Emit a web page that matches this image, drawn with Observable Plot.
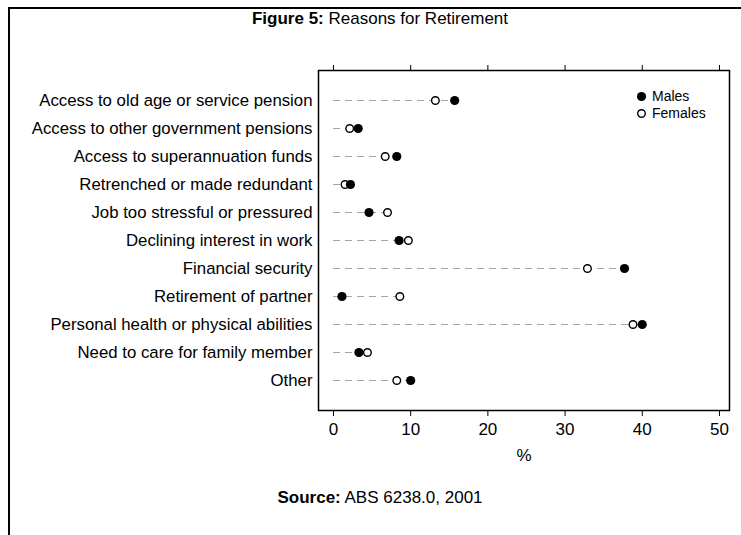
<!DOCTYPE html>
<html>
<head>
<meta charset="utf-8">
<script src="https://cdn.jsdelivr.net/npm/d3@7"></script>
<script src="https://cdn.jsdelivr.net/npm/@observablehq/plot@0.6"></script>
<style>
  html, body { margin: 0; padding: 0; background: #fff; }
  #fig {
    position: relative; width: 741px; height: 535px; overflow: hidden;
    font-family: "Liberation Sans", Arial, sans-serif;
    color: #000;
  }
  #border {
    position: absolute; left: 8px; top: 7px; right: -10px; bottom: -10px;
    border-top: 2px solid #000; border-left: 2px solid #000;
  }
  #title, #source {
    position: absolute; left: 0; width: 760px; text-align: center;
    font-size: 17px; white-space: nowrap;
  }
  #title { top: 9px; }
  #source { top: 488px; }
  #chart { position: absolute; left: 0; top: 0; }
  #legend {
    position: absolute; left: 636px; top: 88px; font-size: 14px; line-height: 17px;
  }
  #legend div { display: flex; align-items: center; }
  #legend svg { margin-right: 5px; }
</style>
</head>
<body>
<div id="fig">
  <div id="border"></div>
  <div id="title"><b>Figure 5:</b> Reasons for Retirement</div>
  <div id="chart"></div>
  <div id="legend">
    <div><svg width="11" height="11"><circle cx="5.5" cy="5.5" r="4.6" fill="#000"/></svg>Males</div>
    <div><svg width="11" height="11"><circle cx="5.5" cy="5.5" r="3.8" fill="#fff" stroke="#000" stroke-width="1.4"/></svg>Females</div>
  </div>
  <div id="source"><b>Source:</b> ABS 6238.0, 2001</div>
</div>
<script>
// Reasons for retirement, percentage of retirees by sex
const reasons = [
  "Access to old age or service pension",
  "Access to other government pensions",
  "Access to superannuation funds",
  "Retrenched or made redundant",
  "Job too stressful or pressured",
  "Declining interest in work",
  "Financial security",
  "Retirement of partner",
  "Personal health or physical abilities",
  "Need to care for family member",
  "Other"
];
const males   = [15.7, 3.2, 8.2, 2.2, 4.6, 8.5, 37.7, 1.1, 40.0, 3.3, 10.0];
const females = [13.2, 2.1, 6.7, 1.5, 7.0, 9.7, 32.9, 8.6, 38.8, 4.4, 8.2];
const xTicks = [0, 10, 20, 30, 40, 50];

const rows = reasons.map((reason, i) => ({
  reason,
  male: males[i],
  female: females[i],
  top: Math.max(males[i], females[i])
}));

const chart = Plot.plot({
  width: 741,
  height: 470,
  marginLeft: 318,
  marginRight: 12,
  marginTop: 70,
  marginBottom: 60,
  style: {
    fontFamily: '"Liberation Sans", Arial, sans-serif',
    fontSize: "16px",
    color: "#000",
    background: "transparent"
  },
  x: { domain: [-1.94, 51.3], ticks: xTicks },
  y: { type: "point", domain: reasons, padding: 1 },
  marks: [
    // dashed leader from zero out to the larger of the two values
    Plot.ruleY(rows, {
      y: "reason", x1: 0, x2: "top",
      stroke: "#a5a5a5", strokeWidth: 1.2, strokeDasharray: "7,5"
    }),
    Plot.frame({ stroke: "#000", strokeWidth: 1.5 }),
    Plot.axisX({
      anchor: "top", ticks: xTicks, tickSize: 6, tickFormat: () => "",
      label: null, stroke: "#000"
    }),
    Plot.axisX({
      anchor: "bottom", ticks: xTicks, tickSize: 6, tickPadding: 6,
      fontSize: 17, label: "%", labelAnchor: "center", labelArrow: "none",
      labelOffset: 50, stroke: "#000"
    }),
    Plot.axisY({ tickSize: 0, tickPadding: 6, label: null, fontSize: 16.8 }),
    Plot.dot(rows, {
      x: "female", y: "reason", r: 3.8,
      fill: "#fff", stroke: "#000", strokeWidth: 1.4
    }),
    Plot.dot(rows, {
      x: "male", y: "reason", r: 4.6, fill: "#000", stroke: "none"
    })
  ]
});
document.getElementById("chart").appendChild(chart);
</script>
</body>
</html>
